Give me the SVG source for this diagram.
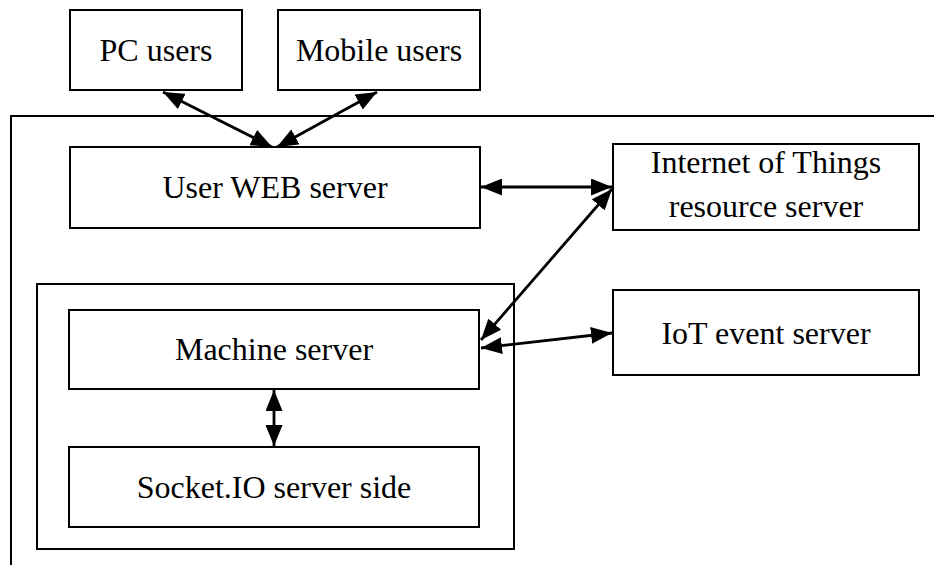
<svg xmlns="http://www.w3.org/2000/svg" width="934" height="565" viewBox="0 0 934 565">
  <style>
    .box { fill: #fff; stroke: #000; stroke-width: 2; }
    .frame { fill: none; stroke: #000; stroke-width: 2; }
    .label { font-family: "Liberation Serif", "Times New Roman", serif; font-size: 32px; fill: #000; text-anchor: middle; }
    .link { fill: none; stroke: #000; stroke-width: 2.8; marker-start: url(#head); marker-end: url(#head); }
  </style>
  <defs>
    <marker id="head" viewBox="0 0 21 17" refX="21" refY="8.5" markerWidth="21" markerHeight="17" markerUnits="userSpaceOnUse" orient="auto-start-reverse">
      <path d="M0,0 L21,8.5 L0,17 Z" fill="#000"/>
    </marker>
  </defs>

  <rect width="934" height="565" fill="#fff"/>

  <!-- outer system boundary (runs off the right and bottom edges) -->
  <path class="frame" d="M11,565 V116 H934"/>

  <!-- machine-side container -->
  <rect id="machine-group" class="frame" x="37" y="284" width="477" height="265"/>

  <g id="pc-users">
    <rect class="box" x="70" y="10" width="172" height="80"/>
    <text class="label" x="156" y="61">PC users</text>
  </g>
  <g id="mobile-users">
    <rect class="box" x="278" y="10" width="202" height="80"/>
    <text class="label" x="379" y="61">Mobile users</text>
  </g>
  <g id="user-web-server">
    <rect class="box" x="70" y="147" width="410" height="81"/>
    <text class="label" x="275" y="198">User WEB server</text>
  </g>
  <g id="iot-resource-server">
    <rect class="box" x="613" y="144" width="306" height="86"/>
    <text class="label" x="766" y="173">Internet of Things</text>
    <text class="label" x="766" y="217">resource server</text>
  </g>
  <g id="iot-event-server">
    <rect class="box" x="613" y="290" width="306" height="85"/>
    <text class="label" x="766" y="344">IoT event server</text>
  </g>
  <g id="machine-server">
    <rect class="box" x="69" y="310" width="410" height="79"/>
    <text class="label" x="274" y="360">Machine server</text>
  </g>
  <g id="socketio-server">
    <rect class="box" x="69" y="447" width="410" height="80"/>
    <text class="label" x="274" y="498">Socket.IO server side</text>
  </g>

  <g id="connectors">
    <path class="link" d="M163,92 L272,147"/>
    <path class="link" d="M377,92 L277,147"/>
    <path class="link" d="M481,187 L612,187"/>
    <path class="link" d="M612,189 L481,340"/>
    <path class="link" d="M481,348 L612,333"/>
    <path class="link" d="M274,390 L274,446"/>
  </g>
</svg>
